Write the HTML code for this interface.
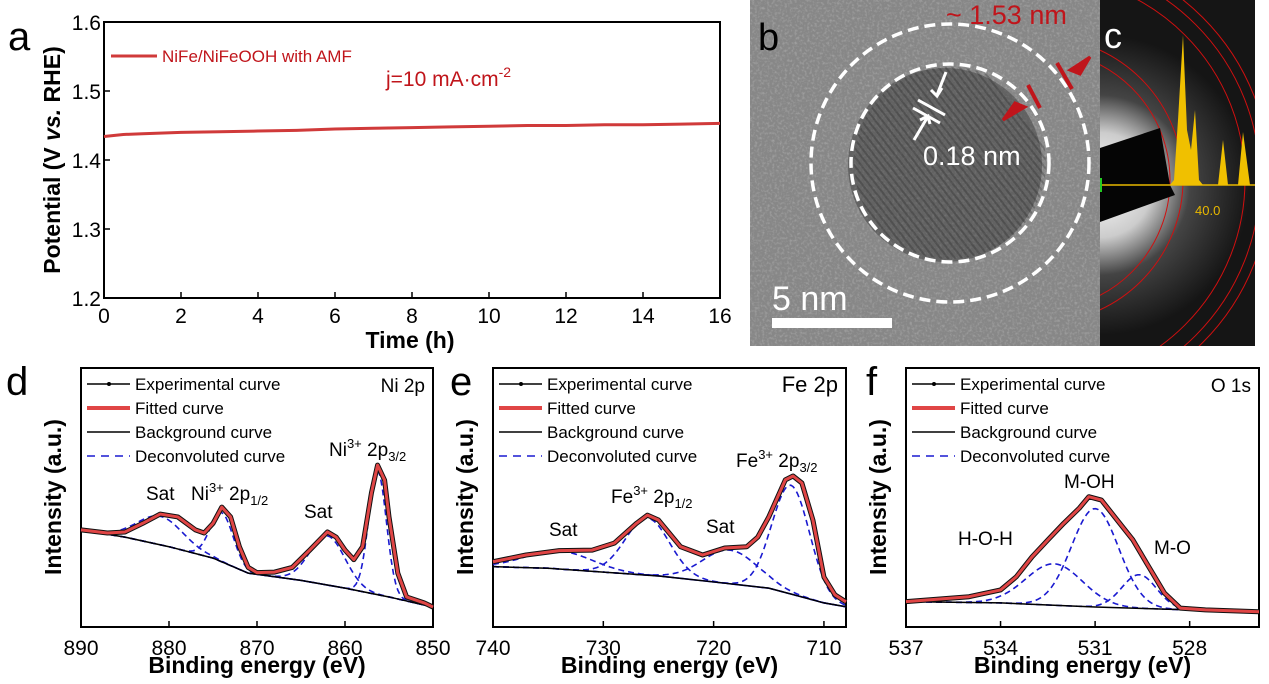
<!DOCTYPE html>
<html><head><meta charset="utf-8"><style>
body{margin:0;background:#fff;}
svg{display:block;font-family:"Liberation Sans",Arial,sans-serif;}
</style></head><body>
<svg id="fig" width="1269" height="684" viewBox="0 0 1269 684" xmlns="http://www.w3.org/2000/svg">
<defs>
<filter id="noise" x="0" y="0" width="100%" height="100%"><feTurbulence type="fractalNoise" baseFrequency="0.4" numOctaves="2" seed="3"/><feColorMatrix type="matrix" values="0 0 0 0 1  0 0 0 0 1  0 0 0 0 1  1 0 0 0 -0.45"/></filter>
<radialGradient id="glow" gradientUnits="userSpaceOnUse" cx="1100" cy="185" r="150"><stop offset="0" stop-color="#fff"/><stop offset="0.35" stop-color="#ccc"/><stop offset="0.6" stop-color="#444"/><stop offset="1" stop-color="#151515"/></radialGradient>
<clipPath id="clipb"><rect x="750" y="0" width="350" height="346"/></clipPath>
<clipPath id="clipcore"><circle cx="950" cy="163" r="96"/></clipPath>
<clipPath id="clipc"><rect x="1100" y="0" width="155" height="346"/></clipPath>
</defs>
<g id="root"></g>
</svg>
<script>
// ---------- Panel a data ----------
const aTimes=[0,0.5,1,2,3,4,5,6,7,8,9,10,11,12,13,14,15,16];
const aPotential=[1.434,1.437,1.438,1.440,1.441,1.442,1.443,1.445,1.446,1.447,1.448,1.449,1.450,1.450,1.451,1.451,1.452,1.453];
const aXTicks=[0,2,4,6,8,10,12,14,16];
const aYTicks=[1.2,1.3,1.4,1.5,1.6];
// ---------- Panel d (Ni 2p) ----------
const dFitE=[890,887,885,883,881,879,877,876,875,874,873,872,871,870,868,866,864,862,861,860,859,858,857,856.3,855.5,855,854,853,851,850];
const dFitI=[37.5,36.3,36.7,40,43.6,42.5,37.5,36.3,40,46.3,42.5,31,23,21,21.2,23,29.7,36.7,34.7,29.7,26,31,51.7,62.5,56.7,42.5,20.8,11.6,9.3,7.7];
const dBgE=[890,885,880,875,871,865,860,855,850];
const dBgI=[37.5,34.7,31,26.6,20.8,18,15,11.6,7.7];
const dPeakC=[881,874,862,856.3];
const dPeakH=[11,19,19,48];
const dPeakW=[2.6,1.3,2.0,1.0];
const dXTicks=[890,880,870,860,850];
// ---------- Panel e (Fe 2p) ----------
const eFitE=[740,737,734,731,729,727,726,725,723,721,719,717,716,715,713.5,712.8,712,711,710,709,708];
const eFitI=[25.2,27.8,29.5,29.7,32.4,40,43.2,41.3,31,27.8,30.5,31,34.7,42.5,56.8,58.3,55.6,41.3,19.3,12.4,9.7];
const eBgE=[740,735,730,725,720,715,712,710,708];
const eBgI=[23.3,22.7,21.2,19.7,17.4,15,11.6,9.3,7.8];
const ePeakC=[734,726,718.5,713];
const ePeakH=[7,22,13,42];
const ePeakW=[3,2,2.5,1.7];
const eXTicks=[740,730,720,710];
// ---------- Panel f (O 1s) ----------
const fFitE=[537,535,534,533.5,533,532.5,532,531.5,531.2,530.8,530.3,529.8,529.3,528.8,528.3,527.5,525.8];
const fFitI=[9.8,11.7,14.3,19.4,27.1,33.6,40,45.9,50.3,49,41.3,33.6,23.3,13.1,7.3,6.6,5.9];
const fBgE=[537,534,531,528,525.8];
const fBgI=[9.8,9.3,7.7,6.6,5.9];
const fPeakC=[532.3,531.0,529.6];
const fPeakH=[16,38,13];
const fPeakW=[0.9,0.75,0.55];
const fXTicks=[537,534,531,528];

const NS="http://www.w3.org/2000/svg";
const root=document.getElementById('root');
function mk(tag,attrs,parent,text){const e=document.createElementNS(NS,tag);for(const k in attrs)e.setAttribute(k,attrs[k]);if(text!==undefined)e.textContent=text;(parent||root).appendChild(e);return e;}
function lerp(xs,ys,x){for(let i=0;i<xs.length-1;i++){const a=xs[i],b=xs[i+1];if((x-a)*(x-b)<=0){const t=(x-a)/(b-a);return ys[i]+t*(ys[i+1]-ys[i]);}}return ys[ys.length-1];}

// ---------- Panel a ----------
(function(){
 const L=104,R=720,T=22,B=298;
 const sx=v=>L+(v-0)/16*(R-L), sy=v=>B-(v-1.2)/0.4*(B-T);
 const g=mk('g',{});
 
 let t=mk('text',{x:8,y:50,'font-size':40},g,'a');
 const fr=mk('rect',{x:L,y:T,width:R-L,height:B-T,fill:'none',stroke:'#000','stroke-width':2},g);
 
 aXTicks.forEach(v=>{mk('line',{x1:sx(v),x2:sx(v),y1:B,y2:B-6,stroke:'#000','stroke-width':1.5},g);
  const tl=mk('text',{x:sx(v),y:B+25,'font-size':21,'text-anchor':'middle'},g,v);
  });
 aYTicks.forEach(v=>{mk('line',{x1:L,x2:L+6,y1:sy(v),y2:sy(v),stroke:'#000','stroke-width':1.5},g);
  const tl=mk('text',{x:L-3,y:sy(v)+8,'font-size':21,'text-anchor':'end'},g,v.toFixed(1));
  });
 const pts=aTimes.map((x,i)=>sx(x)+','+sy(aPotential[i])).join(' ');
 const ln=mk('polyline',{points:pts,fill:'none',stroke:'#d03a3a','stroke-width':3},g);
 
 mk('line',{x1:111,x2:157,y1:56,y2:56,stroke:'#d03a3a','stroke-width':3},g);
 t=mk('text',{x:162,y:62,'font-size':17,fill:'#c0151b'},g,'NiFe/NiFeOOH with AMF');
 t=mk('text',{x:386,y:86,'font-size':21,fill:'#c0151b'},g);
 t.innerHTML='j=10 mA·cm<tspan dy="-9" font-size="14">-2</tspan>';
 t=mk('text',{x:410,y:348,'font-size':23,'font-weight':'bold','text-anchor':'middle'},g,'Time (h)');
 t=mk('text',{x:0,y:0,'font-size':23,'font-weight':'bold','text-anchor':'middle',transform:'translate(60,160) rotate(-90)'},g);
 t.innerHTML='Potential (V <tspan font-style="italic">vs.</tspan> RHE)';
})();

// ---------- XPS panels ----------
function xps(o){
 const T=368,B=627,L=o.L,R=o.R;
 const sx=e=>L+(o.e0-e)/(o.e0-o.e1)*(R-L), sy=i=>B-i*(B-T)/100;
 const g=mk('g',{});
 
 let t=mk('text',{x:o.lx,y:395,'font-size':40},g,o.id);
 const fr=mk('rect',{x:L,y:T,width:R-L,height:B-T,fill:'none',stroke:'#000','stroke-width':2},g);
 
 o.ticks.forEach(v=>{mk('line',{x1:sx(v),x2:sx(v),y1:B,y2:B-6,stroke:'#000','stroke-width':1.5},g);
  const tl=mk('text',{x:sx(v),y:B+28,'font-size':21,'text-anchor':'middle'},g,v);
  });
 const bg=E=>lerp(o.bgE,o.bgI,E);
 o.pc.forEach((c,k)=>{const pts=[];for(let j=0;j<=160;j++){const E=o.e0-(o.e0-o.e1)*j/160;pts.push(sx(E)+','+sy(bg(E)+o.ph[k]*Math.exp(-((E-c)**2)/(2*o.pw[k]**2))));}
  const p=mk('polyline',{points:pts.join(' '),fill:'none',stroke:'#1a1ad0','stroke-width':1.6,'stroke-dasharray':'6,4'},g);
  });
 const bpts=o.bgE.map((e,i)=>sx(e)+','+sy(o.bgI[i])).join(' ');
 let p=mk('polyline',{points:bpts,fill:'none',stroke:'#000','stroke-width':1.5},g);
 
 const fpts=o.fE.map((e,i)=>sx(e)+','+sy(o.fI[i])).join(' ');
 p=mk('polyline',{points:fpts,fill:'none',stroke:'#111','stroke-width':5,'stroke-linejoin':'round'},g);
 
 p=mk('polyline',{points:fpts,fill:'none',stroke:'#e04545','stroke-width':3,'stroke-linejoin':'round'},g);
 
 const lx=L+6,items=[['Experimental curve','#000',1.5,''],['Fitted curve','#e04545',4,''],['Background curve','#000',1.5,''],['Deconvoluted curve','#1a1ad0',1.6,'8,6']];
 items.forEach((it,i)=>{const y=384+i*24;
  const ln=mk('line',{x1:lx,x2:lx+43,y1:y,y2:y,stroke:it[1],'stroke-width':it[2],'stroke-dasharray':it[3]},g);
  
  if(i==0)mk('circle',{cx:lx+22,cy:y,r:2,fill:'#000'},g);
  const tx=mk('text',{x:lx+48,y:y+6,'font-size':17},g,it[0]);});
 t=mk('text',{x:R-8,y:392,'font-size':o.tsz,'text-anchor':'end'},g,o.title);
 o.ann.forEach(a=>{const tx=mk('text',{x:a[0],y:a[1],'font-size':19},g);tx.innerHTML=a[2];});
 t=mk('text',{x:(L+R)/2,y:673,'font-size':23,'font-weight':'bold','text-anchor':'middle'},g,'Binding energy (eV)');
 t=mk('text',{x:0,y:0,'font-size':23,'font-weight':'bold','text-anchor':'middle',transform:`translate(${L-20},${497}) rotate(-90)`},g,'Intensity (a.u.)');
}
xps({id:'d',L:81,R:433,e0:890,e1:850,lx:6,fE:dFitE,fI:dFitI,bgE:dBgE,bgI:dBgI,pc:dPeakC,ph:dPeakH,pw:dPeakW,ticks:dXTicks,title:'Ni 2p',tsz:19,
 ann:[[146,500,'Sat'],[191,500,'Ni<tspan dy="-8" font-size="13">3+</tspan><tspan dy="8"> 2p</tspan><tspan dy="5" font-size="13">1/2</tspan>'],[304,518,'Sat'],[329,456,'Ni<tspan dy="-8" font-size="13">3+</tspan><tspan dy="8"> 2p</tspan><tspan dy="5" font-size="13">3/2</tspan>']]});
xps({id:'e',L:493,R:846,e0:740,e1:708,lx:450,fE:eFitE,fI:eFitI,bgE:eBgE,bgI:eBgI,pc:ePeakC,ph:ePeakH,pw:ePeakW,ticks:eXTicks,title:'Fe 2p',tsz:22,
 ann:[[549,536,'Sat'],[611,503,'Fe<tspan dy="-8" font-size="13">3+</tspan><tspan dy="8"> 2p</tspan><tspan dy="5" font-size="13">1/2</tspan>'],[706,533,'Sat'],[736,467,'Fe<tspan dy="-8" font-size="13">3+</tspan><tspan dy="8"> 2p</tspan><tspan dy="5" font-size="13">3/2</tspan>']]});
xps({id:'f',L:906,R:1259,e0:537,e1:525.8,lx:866,fE:fFitE,fI:fFitI,bgE:fBgE,bgI:fBgI,pc:fPeakC,ph:fPeakH,pw:fPeakW,ticks:fXTicks,title:'O 1s',tsz:19,
 ann:[[958,545,'H-O-H'],[1064,488,'M-OH'],[1154,554,'M-O']]});

// ---------- Panel b (TEM) & c (SAED) ----------
(function(){
 const g=mk('g',{});
 const gb=mk('g',{'clip-path':'url(#clipb)'},g);
 mk('rect',{x:750,y:0,width:350,height:346,fill:'#878787'},gb);
 mk('rect',{x:750,y:0,width:350,height:346,filter:'url(#noise)',opacity:0.5},gb);
 mk('circle',{cx:945,cy:165,r:97,fill:'#2a2a2a',opacity:0.4},gb);
 const gh=mk('g',{'clip-path':'url(#clipcore)'},gb);
 for(let i=-16;i<=16;i++){mk('line',{x1:945+i*7-90,y1:50,x2:945+i*7+90,y2:280,stroke:'#1a1a1a','stroke-width':2,opacity:0.25},gh);}
 let c=mk('circle',{cx:950,cy:163,r:139,fill:'none',stroke:'#fff','stroke-width':3.5,'stroke-dasharray':'11,6'},g);
 c=mk('circle',{cx:950,cy:163,r:99,fill:'none',stroke:'#fff','stroke-width':3.5,'stroke-dasharray':'11,6'},g);
 mk('line',{x1:918,y1:100,x2:945,y2:115,stroke:'#fff','stroke-width':3},g);
 mk('line',{x1:913,y1:108,x2:940,y2:123,stroke:'#fff','stroke-width':3},g);
 mk('path',{d:'M946 72 L937 95 M931 90 L937 96 L942 88',stroke:'#fff','stroke-width':3,fill:'none'},g);
 mk('path',{d:'M914 140 L927 118 M920 120 L928 116 L930 124',stroke:'#fff','stroke-width':3,fill:'none'},g);
 let t=mk('text',{x:923,y:165,'font-size':27,fill:'#fff'},g,'0.18 nm');
 mk('line',{x1:1028,y1:85,x2:1040,y2:108,stroke:'#c0151b','stroke-width':4},g);
 mk('line',{x1:1057,y1:63,x2:1072,y2:89,stroke:'#c0151b','stroke-width':4},g);
 mk('path',{d:'M1003 120 L1025 107 L1015 103 Z',fill:'#c0151b',stroke:'#c0151b','stroke-width':3},g);
 mk('path',{d:'M1090 57 L1070 70 L1080 74 Z',fill:'#c0151b',stroke:'#c0151b','stroke-width':3},g);
 t=mk('text',{x:946,y:24,'font-size':27,fill:'#c0151b'},g,'~ 1.53 nm');
 t=mk('text',{x:758,y:50,'font-size':38},g,'b');
 mk('rect',{x:772,y:318,width:120,height:10,fill:'#fff'},g);
 t=mk('text',{x:772,y:310,'font-size':34,fill:'#fff'},g,'5 nm');
 const gc=mk('g',{'clip-path':'url(#clipc)'},g);
 mk('rect',{x:1100,y:0,width:155,height:346,fill:'#151515'},gc);
 mk('rect',{x:1100,y:0,width:155,height:346,fill:'url(#glow)'},gc);
 [130,143,205,220,230].forEach(r=>mk('circle',{cx:1040,cy:180,r:r,fill:'none',stroke:'#d01010','stroke-width':1},gc));
 mk('polygon',{points:'1100,148 1160,128 1170,185 1100,185',fill:'#050505'},gc);
 mk('polygon',{points:'1100,185 1170,185 1175,195 1100,222',fill:'#050505'},gc);
 mk('line',{x1:1100,y1:185,x2:1255,y2:185,stroke:'#e8b800','stroke-width':1.5},gc);
 mk('path',{d:'M1170 185 L1174 180 L1178 120 L1183 35 L1187 130 L1191 150 L1195 110 L1199 180 L1203 185 L1218 185 L1223 140 L1228 185 L1238 185 L1243 132 L1250 185 Z',fill:'#f0c000'},gc);
 mk('rect',{x:1099,y:178,width:3,height:14,fill:'#2c2'},gc);
 t=mk('text',{x:1195,y:215,'font-size':13,fill:'#e8b800'},gc,'40.0');
 t=mk('text',{x:1104,y:48,'font-size':36,fill:'#fff'},g,'c');
})();
</script>
</body></html>
